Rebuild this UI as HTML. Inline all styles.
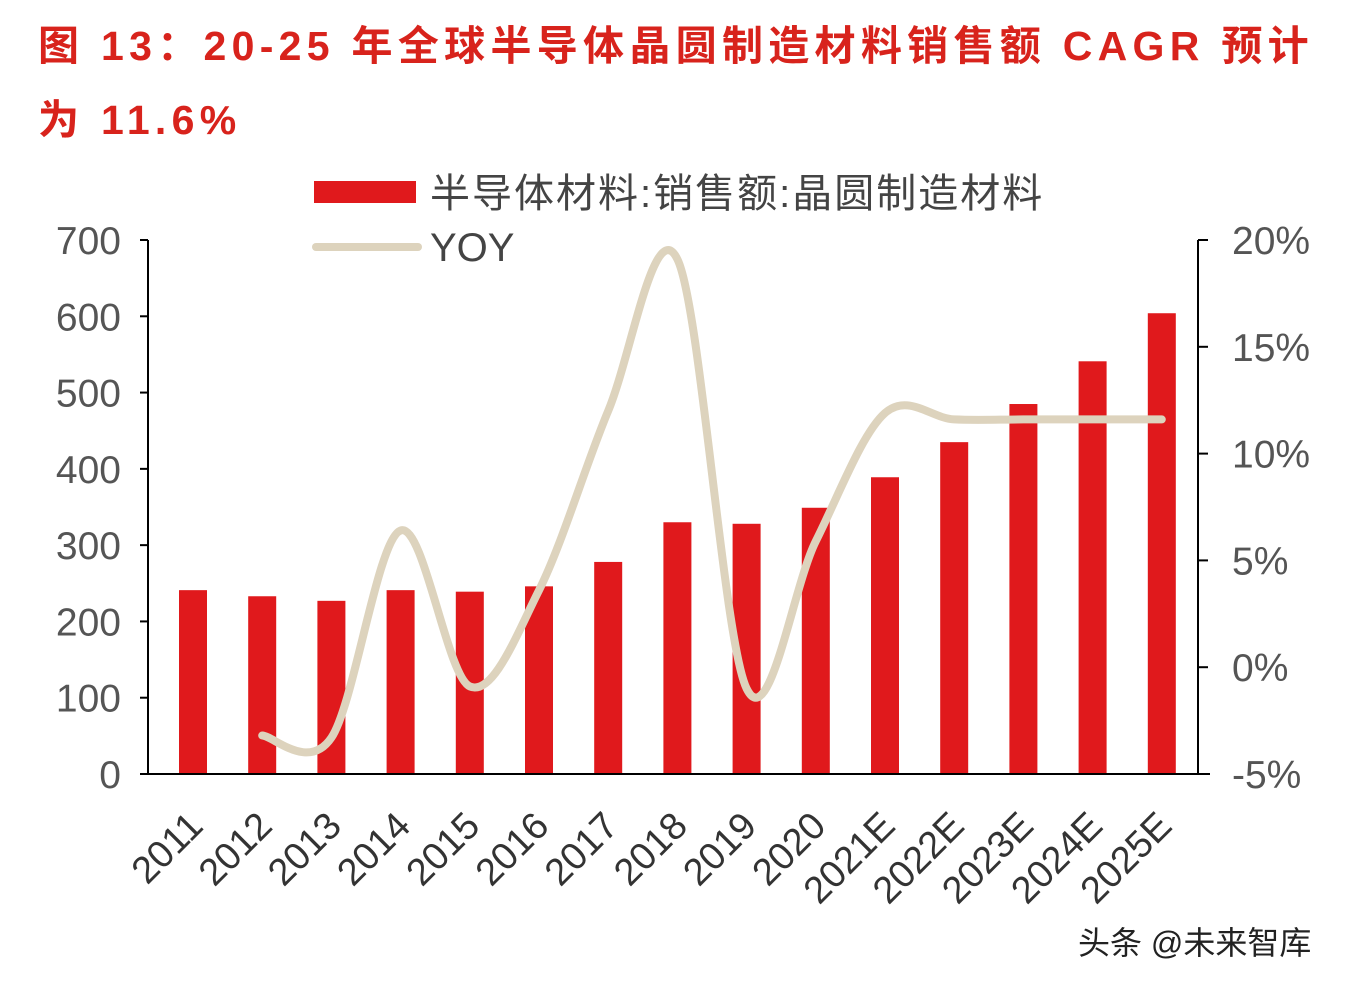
<!DOCTYPE html>
<html><head><meta charset="utf-8">
<style>
body{margin:0;width:1356px;height:984px;background:#fff;overflow:hidden;font-family:"Liberation Sans","Noto Sans CJK SC",sans-serif;}
.t{position:absolute;left:38px;color:#d8231c;font-size:41px;font-weight:bold;letter-spacing:5.3px;white-space:nowrap;}
</style></head><body>
<div class="t" style="top:12px">图 13：20-25 年全球半导体晶圆制造材料销售额 CAGR 预计</div>
<div class="t" style="top:86px">为 11.6%</div>
<svg id="c" width="1356" height="984" style="position:absolute;left:0;top:0"></svg>
<div style="position:absolute;left:1078px;top:918px;font-size:32px;letter-spacing:0px;color:#222">头条 @未来智库</div>
<script>
const categories=["2011","2012","2013","2014","2015","2016","2017","2018","2019","2020","2021E","2022E","2023E","2024E","2025E"];
const salesValues=[241,233,227,241,239,246,278,330,328,349,389,435,485,541,604];
const yoyValues=[null,-3.2,-3.3,6.4,-0.9,3.6,12.0,19.1,-1.0,5.9,11.9,11.6,11.6,11.6,11.6];
const leftTicks=[0,100,200,300,400,500,600,700];
const rightTicks=[-5,0,5,10,15,20];
const NS="http://www.w3.org/2000/svg",svg=document.getElementById('c');
function mk(t,a,p){const e=document.createElementNS(NS,t);for(const k in a)e.setAttribute(k,a[k]);(p||svg).appendChild(e);return e;}
const y0=774,y1=240,xL=148,xR=1198;
const yL=v=>y0-(v/700)*(y0-y1);
const yR=v=>y0-((v+5)/25)*(y0-y1);
const step=69.2,xC=i=>193+i*step;
categories.forEach((c,i)=>{const b=mk('rect',{x:xC(i)-14,y:yL(salesValues[i]),width:28,height:y0-yL(salesValues[i]),fill:'#e0191c'});


const t=mk('text',{x:0,y:0,'font-size':38,fill:'#333','text-anchor':'end',transform:`translate(${xC(i)+12},${y0+54}) rotate(-45)`});t.textContent=c;

});
mk('line',{x1:xL,y1:y1,x2:xL,y2:y0,stroke:'#000','stroke-width':2});
mk('line',{x1:xR,y1:y1,x2:xR,y2:y0,stroke:'#000','stroke-width':2});
mk('line',{x1:xL,y1:y0,x2:1210,y2:y0,stroke:'#000','stroke-width':2});
leftTicks.forEach(v=>{mk('line',{x1:xL-8,y1:yL(v),x2:xL,y2:yL(v),stroke:'#000','stroke-width':2});
const t=mk('text',{x:121,y:yL(v)+14,'font-size':39,fill:'#555','text-anchor':'end'});t.textContent=v;

});
rightTicks.forEach(v=>{mk('line',{x1:xR,y1:yR(v),x2:xR+10,y2:yR(v),stroke:'#000','stroke-width':2});
const t=mk('text',{x:1232,y:yR(v)+14,'font-size':39,fill:'#555'});t.textContent=v+'%';

});
const pts=[];yoyValues.forEach((v,i)=>{if(v!==null)pts.push([xC(i),yR(v)]);});
let d='M'+pts[0][0]+','+pts[0][1];
for(let i=0;i<pts.length-1;i++){const p0=pts[i-1]||pts[i],p1=pts[i],p2=pts[i+1],p3=pts[i+2]||p2;
d+=` C${p1[0]+(p2[0]-p0[0])/6},${p1[1]+(p2[1]-p0[1])/6} ${p2[0]-(p3[0]-p1[0])/6},${p2[1]-(p3[1]-p1[1])/6} ${p2[0]},${p2[1]}`;}
const ln=mk('path',{d:d,fill:'none',stroke:'#ddd3bd','stroke-width':8,'stroke-linecap':'round'});


const g=mk('g',{});
mk('rect',{x:314,y:181,width:102,height:22,fill:'#e0191c'},g);
const l1=mk('text',{x:430,y:207,'font-size':40,fill:'#444','letter-spacing':2},g);l1.textContent='半导体材料:销售额:晶圆制造材料';
mk('line',{x1:316,y1:247,x2:418,y2:247,stroke:'#ddd3bd','stroke-width':8,'stroke-linecap':'round'},g);
const l2=mk('text',{x:430,y:261,'font-size':40,fill:'#444'},g);l2.textContent='YOY';
</script>
</body></html>
